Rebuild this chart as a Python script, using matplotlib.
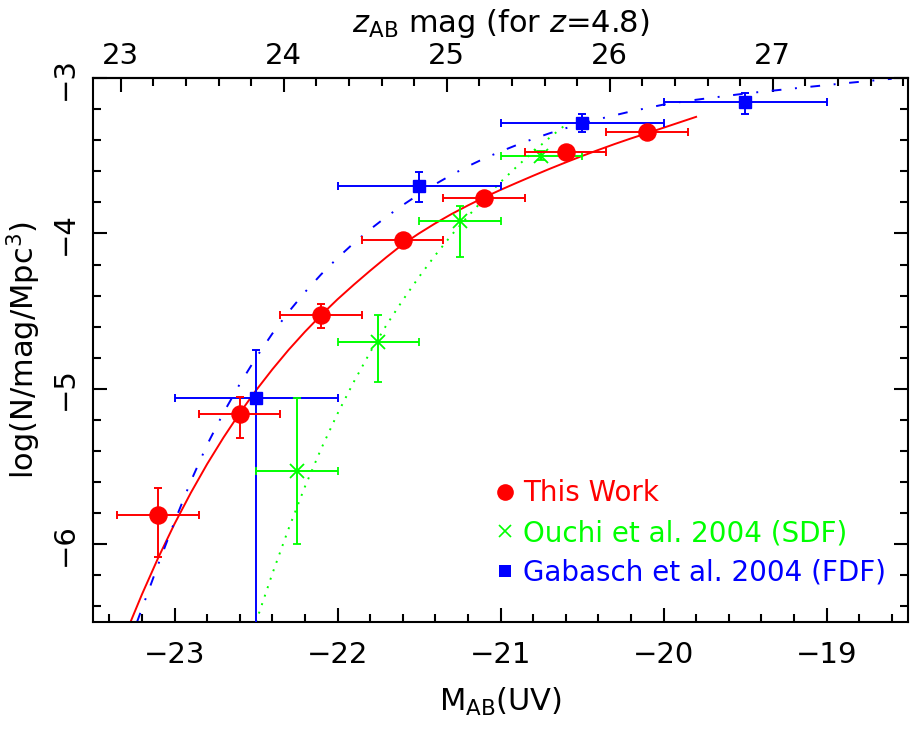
import matplotlib
matplotlib.use('Agg')
import matplotlib.pyplot as plt
from matplotlib.lines import Line2D
from matplotlib.ticker import MultipleLocator, FixedLocator

# ---------------- data ----------------
# This Work (red circles)
this_M = [-23.1, -22.6, -22.1, -21.6, -21.1, -20.6, -20.1]
this_phi = [-5.81, -5.16, -4.525, -4.04, -3.775, -3.475, -3.35]
this_err_lo = [0.27, 0.155, 0.086, 0.03, 0.03, 0.03, 0.03]
this_err_hi = [0.17, 0.107, 0.07, 0.03, 0.03, 0.03, 0.03]
this_dM = [0.25, 0.25, 0.25, 0.25, 0.25, 0.25, 0.25]

# Ouchi et al. 2004 (SDF) (green crosses)
ouchi_M = [-22.25, -21.75, -21.25, -20.75]
ouchi_phi = [-5.527, -4.70, -3.92, -3.50]
ouchi_err_lo = [0.47, 0.254, 0.23, 0.03]
ouchi_err_hi = [0.47, 0.175, 0.096, 0.03]
ouchi_dM = [0.25, 0.25, 0.25, 0.25]

# Gabasch et al. 2004 (FDF) (blue squares)
gab_M = [-22.5, -21.5, -20.5, -19.5]
gab_phi = [-5.057, -3.693, -3.287, -3.156]
gab_err_lo = [2.0, 0.103, 0.063, 0.074]
gab_err_hi = [0.307, 0.086, 0.053, 0.062]
gab_dM = [0.5, 0.5, 0.5, 0.5]

# fitted curves
fit_this_M = [-23.27, -23.2, -23.1, -23.0, -22.9, -22.8, -22.7, -22.6, -22.5, -22.4,
              -22.3, -22.2, -22.1, -22.0, -21.9, -21.8, -21.7, -21.6, -21.5, -21.4,
              -21.3, -21.2, -21.1, -21.0, -20.9, -20.8, -20.7, -20.6, -20.5, -20.4,
              -20.3, -20.2, -20.1, -20.0, -19.9, -19.8]
fit_this_phi = [-6.50, -6.323, -6.087, -5.869, -5.669, -5.484, -5.314, -5.156, -5.010, -4.875,
                -4.749, -4.633, -4.525, -4.424, -4.330, -4.240, -4.153, -4.070, -4.000, -3.935,
                -3.875, -3.820, -3.768, -3.720, -3.674, -3.629, -3.585, -3.543, -3.502, -3.463,
                -3.425, -3.389, -3.355, -3.320, -3.285, -3.250]

fit_gab_M = [-23.23, -23.1, -23.0, -22.9, -22.8, -22.7, -22.6, -22.5, -22.4, -22.3,
             -22.2, -22.1, -22.0, -21.9, -21.8, -21.7, -21.6, -21.5, -21.4, -21.3,
             -21.2, -21.1, -21.0, -20.9, -20.8, -20.7, -20.6, -20.5, -20.4, -20.2,
             -20.0, -19.8, -19.5, -19.2, -18.9, -18.6]
fit_gab_phi = [-6.50, -6.13, -5.855, -5.595, -5.36, -5.155, -4.97, -4.80, -4.645, -4.505,
               -4.378, -4.263, -4.158, -4.062, -3.974, -3.893, -3.818, -3.748, -3.683, -3.623,
               -3.568, -3.518, -3.473, -3.431, -3.392, -3.356, -3.323, -3.293, -3.265, -3.215,
               -3.171, -3.140, -3.100, -3.067, -3.035, -3.005]

fit_ouchi_M = [-22.50, -22.40, -22.30, -22.20, -22.10, -22.00, -21.90, -21.80, -21.70,
               -21.60, -21.50, -21.40, -21.30, -21.20, -21.10, -21.00, -20.90, -20.80,
               -20.70, -20.60]
fit_ouchi_phi = [-6.50, -6.19, -5.90, -5.63, -5.385, -5.16, -4.955, -4.765, -4.59,
                 -4.43, -4.28, -4.14, -4.01, -3.89, -3.777, -3.67, -3.57, -3.475,
                 -3.385, -3.30]

x_ticks = [-23, -22, -21, -20, -19]
y_ticks = [-6, -5, -4, -3]
top_ticks = [23, 24, 25, 26, 27]
z_offset = 46.33  # z_AB = M_AB + offset

labels = ['This Work', 'Ouchi et al. 2004 (SDF)', 'Gabasch et al. 2004 (FDF)']

RED = '#ff0000'
GREEN = '#00ff00'
BLUE = '#0000ff'

plt.rcParams['font.family'] = ['DejaVu Sans']
plt.rcParams['mathtext.fontset'] = 'dejavusans'
plt.rcParams['axes.linewidth'] = 1.5

fig = plt.figure(figsize=(9.11, 7.29), dpi=100)
ax = fig.add_axes([93/911, 1-622/729, 815/911, 544/729])

lw = 1.4
# curves
ax.plot(fit_this_M, fit_this_phi, color=RED, lw=lw, zorder=2)
ax.plot(fit_gab_M, fit_gab_phi, color=BLUE, lw=lw, ls=(0, (5.0, 7.0, 1.0, 7.0)), zorder=2)
ax.plot(fit_ouchi_M, fit_ouchi_phi, color=GREEN, lw=lw, ls=(0, (1.0, 3.6)), zorder=2)

# data points
ax.errorbar(gab_M, gab_phi, xerr=gab_dM, yerr=[gab_err_lo, gab_err_hi], fmt='s',
            color=BLUE, ms=8.6, elinewidth=lw, capsize=3.2, capthick=lw, zorder=3)
ax.errorbar(ouchi_M, ouchi_phi, xerr=ouchi_dM, yerr=[ouchi_err_lo, ouchi_err_hi], fmt='x',
            color=GREEN, ms=10, mew=1.3, elinewidth=lw, capsize=2.6, capthick=lw, zorder=3)
ax.errorbar(this_M, this_phi, xerr=this_dM, yerr=[this_err_lo, this_err_hi], fmt='o',
            color=RED, ms=12.3, elinewidth=lw, capsize=3.2, capthick=lw, zorder=4)

ax.set_xlim(-23.5, -18.5)
ax.set_ylim(-6.5, -3.0)

ax.xaxis.set_major_locator(FixedLocator(x_ticks))
ax.xaxis.set_minor_locator(MultipleLocator(0.2))
ax.yaxis.set_major_locator(FixedLocator(y_ticks))
ax.yaxis.set_minor_locator(MultipleLocator(0.2))

ax.tick_params(which='both', direction='in', bottom=True, left=True, right=True, top=False,
               width=1.5, color='black')
ax.tick_params(which='major', length=10)
ax.tick_params(which='minor', length=5.5)
ax.tick_params(axis='x', which='major', labelsize=21, pad=14)
ax.tick_params(axis='y', which='major', labelsize=21, pad=10, labelrotation=90)
for lab in ax.get_yticklabels():
    lab.set_va('center')

secax = ax.secondary_xaxis('top', functions=(lambda m: m + z_offset, lambda z: z - z_offset))
secax.xaxis.set_major_locator(FixedLocator(top_ticks))
secax.xaxis.set_minor_locator(MultipleLocator(0.2))
secax.tick_params(which='both', direction='in', width=1.5, color='black')
secax.tick_params(which='major', length=10, labelsize=21, pad=6)
secax.tick_params(which='minor', length=5.5)
secax.set_xlabel(r'$z$$_{\rm AB}$ mag (for $z$=4.8)', fontsize=22, labelpad=7)

ax.set_xlabel(r'M$_{\rm AB}$(UV)', fontsize=22, labelpad=12)
ax.set_ylabel(r'log(N/mag/Mpc$^3$)', fontsize=22, labelpad=6)

handles = [
    Line2D([], [], color=RED, marker='o', ls='none', ms=12, mew=0),
    Line2D([], [], color=GREEN, marker='x', ls='none', ms=9, mew=1.2),
    Line2D([], [], color=BLUE, marker='s', ls='none', ms=8.4, mew=0),
]
ax.legend(handles, labels, loc='upper left', bbox_to_anchor=(0.4956, 0.262),
          frameon=False, fontsize=20, handlelength=0.6, handletextpad=0.35,
          labelspacing=0.42, borderpad=0, borderaxespad=0,
          labelcolor=[RED, GREEN, BLUE])

fig.savefig('out.png', dpi=100)
